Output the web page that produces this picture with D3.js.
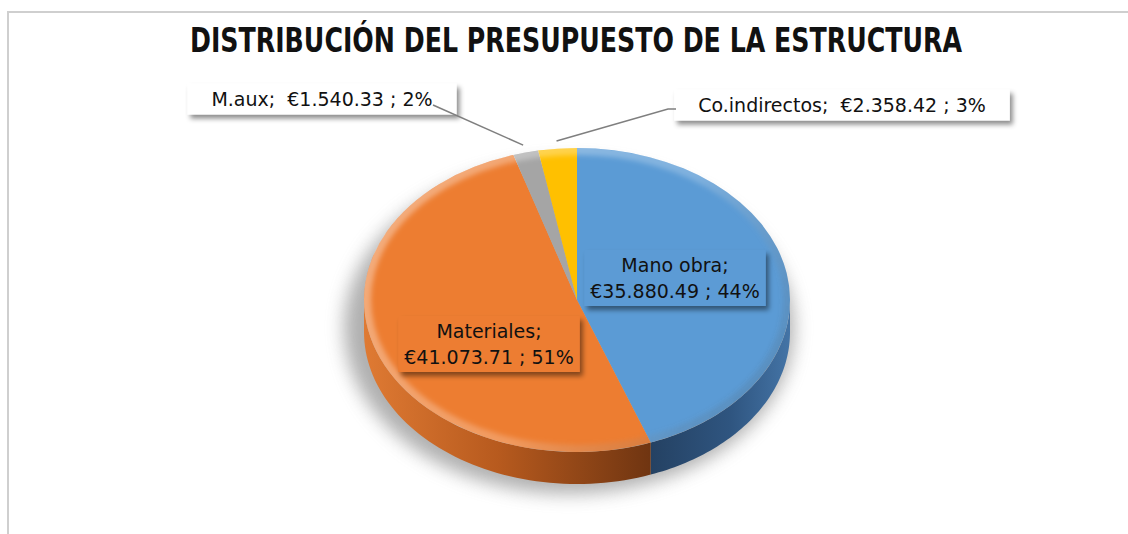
<!DOCTYPE html>
<html><head><meta charset="utf-8">
<script src="https://cdn.jsdelivr.net/npm/d3@7"></script>
<style>
html,body{margin:0;padding:0;background:#fff;}
svg{display:block;}
text{white-space:pre;}
</style></head><body>
<svg id="chart" width="1128" height="534"></svg>
<script>
// Budget split of the structure
const categories = ["Mano obra", "Materiales", "M.aux", "Co.indirectos"];
const amounts = [35880.49, 41073.71, 1540.33, 2358.42];
const colors = ["#5B9BD5", "#ED7D31", "#A5A5A5", "#FFC000"];
const titleText = "DISTRIBUCIÓN DEL PRESUPUESTO DE LA ESTRUCTURA";

// layout
const W = 1128, H = 534;
const cx = 577, cy = 300, rx = 213, ry = 152, depth = 32;
const labelFont = "'DejaVu Sans', 'Noto Sans', sans-serif";
const labelLayout = [
  {cx: 675, cy: 278, inside: true},
  {cx: 489, cy: 344, inside: true},
  {cx: 322, cy: 99, inside: false, leader: [[433, 105]]},
  {cx: 842, cy: 105, inside: false, leader: [[668, 109], [676, 109]]}
];

const svg = d3.select("#chart");
const defs = svg.append("defs");

const euro = d3.formatLocale({decimal: ".", thousands: ".", grouping: [3], currency: ["€", ""]}).format("$,.2f");
const total = d3.sum(amounts);
const pct = v => Math.round(v / total * 100) + "%";

const rows = categories.map((c, i) => ({name: c, value: amounts[i], color: colors[i]}));
const arcs = d3.pie().sort(null).value(d => d.value)(rows);

// point on the tilted rim; angle measured clockwise from 12 o'clock
const pt = (a, k = 1, dy = 0) => [cx + rx * k * Math.sin(a), cy - ry * k * Math.cos(a) + dy];

// filters
const blur = defs.append("filter").attr("id", "shadowBlur").attr("x", "-30%").attr("y", "-30%").attr("width", "160%").attr("height", "160%");
blur.append("feGaussianBlur").attr("stdDeviation", 9);
const rimBlur = defs.append("filter").attr("id", "rimBlur");
rimBlur.append("feGaussianBlur").attr("stdDeviation", 2.5);
const drop = defs.append("filter").attr("id", "boxShadow").attr("x", "-20%").attr("y", "-30%").attr("width", "140%").attr("height", "170%");
drop.append("feDropShadow").attr("dx", 3).attr("dy", 4).attr("stdDeviation", 2.5)
  .attr("flood-color", "#000").attr("flood-opacity", 0.45);

// side gradients
function hGrad(id, x1, x2, stops) {
  const g = defs.append("linearGradient").attr("id", id).attr("gradientUnits", "userSpaceOnUse")
    .attr("x1", x1).attr("x2", x2).attr("y1", 0).attr("y2", 0);
  stops.forEach(s => g.append("stop").attr("offset", s[0]).attr("stop-color", s[1]));
}
hGrad("side0", cx + rx * 0.3, cx + rx, [[0, "#233f5f"], [0.6, "#2f5580"], [1, "#4474a6"]]);
hGrad("side1", cx - rx, cx + rx * 0.4, [[0, "#df7a33"], [0.45, "#b75a1e"], [1, "#6a3210"]]);
hGrad("side2", cx - rx, cx + rx, [[0, "#8a8a8a"], [1, "#5a5a5a"]]);
hGrad("side3", cx - rx, cx + rx, [[0, "#d9a300"], [1, "#8c6a00"]]);

const rim = defs.append("linearGradient").attr("id", "rimGrad").attr("gradientUnits", "userSpaceOnUse")
  .attr("x1", cx - rx).attr("y1", cy - ry).attr("x2", cx + rx).attr("y2", cy + ry);
rim.append("stop").attr("offset", 0).attr("stop-color", "#fff").attr("stop-opacity", 0.4);
rim.append("stop").attr("offset", 0.55).attr("stop-color", "#fff").attr("stop-opacity", 0.22);
rim.append("stop").attr("offset", 1).attr("stop-color", "#000").attr("stop-opacity", 0.12);

defs.append("clipPath").attr("id", "topClip").append("ellipse")
  .attr("cx", cx).attr("cy", cy).attr("rx", rx).attr("ry", ry);

// chart frame
svg.append("path").attr("d", `M8,${H} V12 H${W}`).attr("fill", "none")
  .attr("stroke", "#cfcfcf").attr("stroke-width", 2);

// title
svg.append("text").attr("x", 576).attr("y", 52).attr("text-anchor", "middle")
  .attr("font-family", "'DejaVu Sans Condensed', 'Liberation Sans Narrow', 'DejaVu Sans', sans-serif")
  .attr("font-weight", "bold").attr("font-size", 33).attr("fill", "#111")
  .attr("textLength", 772).attr("lengthAdjust", "spacingAndGlyphs")
  .text(titleText);

// soft shadow under the pie
svg.append("ellipse").attr("cx", cx - 8).attr("cy", cy + 28).attr("rx", rx + 12).attr("ry", ry + 14)
  .attr("fill", "#808080").attr("opacity", 0.62).attr("filter", "url(#shadowBlur)");

// visible front wall of each slice
const front0 = Math.PI / 2, front1 = Math.PI * 1.5;
function sidePath(a0, a1) {
  const steps = d3.range(0, 61).map(i => a0 + (a1 - a0) * i / 60);
  const top = steps.map(a => pt(a));
  const bot = steps.slice().reverse().map(a => pt(a, 1, depth));
  return d3.line()(top.concat(bot)) + "Z";
}
svg.append("g").selectAll("path")
  .data(arcs.filter(d => Math.min(d.endAngle, front1) > Math.max(d.startAngle, front0)))
  .join("path")
  .attr("d", d => sidePath(Math.max(d.startAngle, front0), Math.min(d.endAngle, front1)))
  .attr("fill", d => `url(#side${d.index})`);

// top face: circular arcs squashed into the tilted ellipse
const arcGen = d3.arc().innerRadius(0).outerRadius(rx);
svg.append("g").attr("transform", `translate(${cx},${cy}) scale(1,${ry / rx})`)
  .selectAll("path").data(arcs).join("path")
  .attr("d", arcGen).attr("fill", d => d.data.color);

// rounded bevel highlight along the rim
svg.append("g").attr("clip-path", "url(#topClip)")
  .append("ellipse").attr("cx", cx).attr("cy", cy).attr("rx", rx).attr("ry", ry)
  .attr("fill", "none").attr("stroke", "url(#rimGrad)").attr("stroke-width", 14)
  .attr("filter", "url(#rimBlur)");

// data labels
const labels = svg.append("g").attr("font-family", labelFont).attr("font-size", 19).attr("fill", "#111");
arcs.forEach((d, i) => {
  const L = labelLayout[i];
  const name = d.data.name, amt = euro(d.data.value), p = pct(d.data.value);
  const g = labels.append("g");
  const box = g.append("rect").attr("filter", "url(#boxShadow)")
    .attr("fill", L.inside ? d.data.color : "#fff");
  let lines;
  if (L.inside) {
    lines = [`${name};`, `${amt} ; ${p}`];
  } else {
    lines = [`${name};  ${amt} ; ${p}`];
  }
  const lh = 26;
  const firstBase = L.cy + 7 - (lines.length - 1) * lh / 2;
  const txt = g.append("text").attr("text-anchor", "middle");
  lines.forEach((s, j) => txt.append("tspan").attr("x", L.cx).attr("y", firstBase + j * lh).text(s));
  const bb = txt.node().getBBox();
  const padX = L.inside ? 6 : 24;
  const boxH = L.inside ? 56 : 31;
  box.attr("x", bb.x - padX).attr("width", bb.width + padX * 2)
    .attr("y", L.cy - boxH / 2).attr("height", boxH);

  if (L.leader) {
    const mid = (d.startAngle + d.endAngle) / 2;
    const pts = [pt(mid, 1.05)].concat(L.leader);
    svg.append("path").attr("d", d3.line()(pts)).attr("fill", "none")
      .attr("stroke", "#7f7f7f").attr("stroke-width", 1.5);
  }
});
</script>
</body></html>
